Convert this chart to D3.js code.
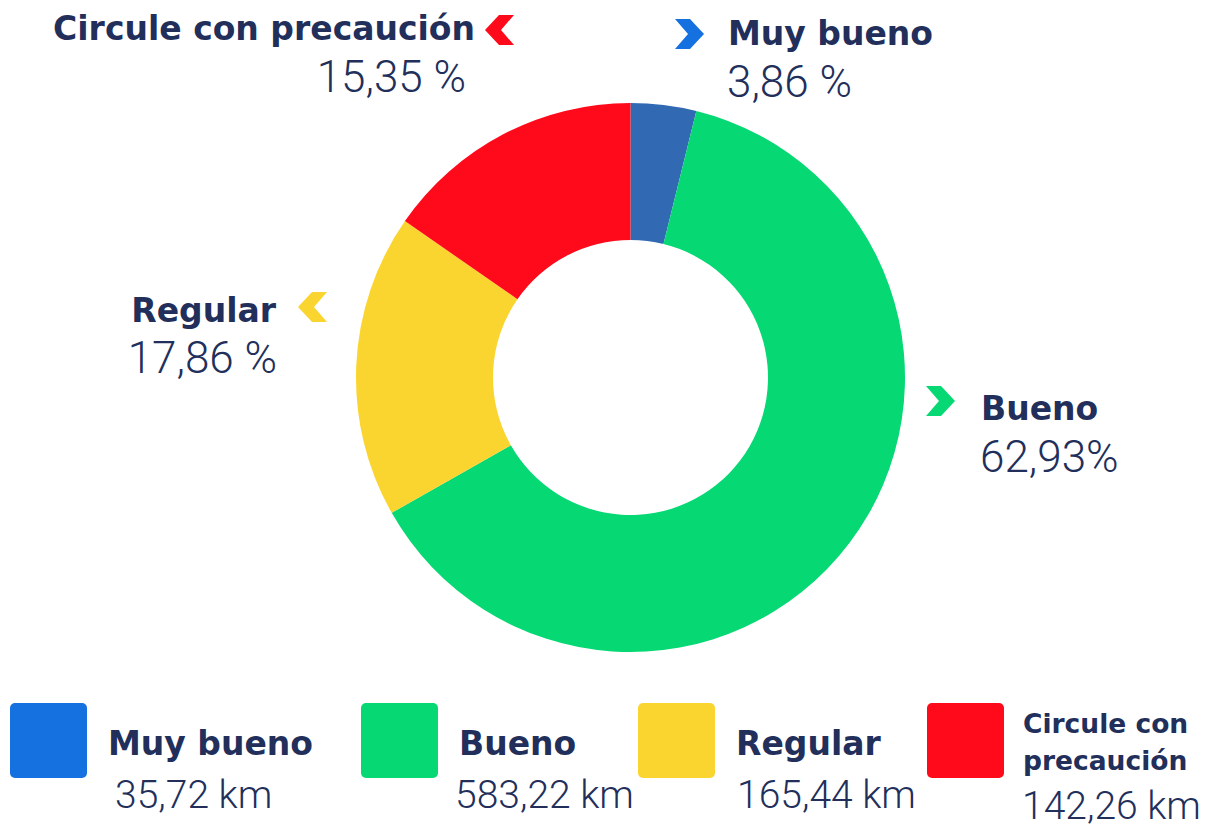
<!DOCTYPE html>
<html><head><meta charset="utf-8">
<script src="https://cdn.jsdelivr.net/npm/d3@7"></script>
<style>body{margin:0;background:#fff}svg{display:block}</style>
</head><body>
<svg id="c" width="1209" height="829"></svg>
<script>
const categories = ["Muy bueno", "Bueno", "Regular", "Circule con precaución"];
const kmValues = [35.72, 583.22, 165.44, 142.26];
const pctLabels = ["3,86 %", "62,93%", "17,86 %", "15,35 %"];
const kmLabels = ["35,72 km", "583,22 km", "165,44 km", "142,26 km"];
const arcColors = ["#316ab2", "#06d874", "#fad530", "#ff0a1a"];
const legendColors = ["#1570e0", "#06d874", "#fad530", "#ff0a1a"];

const svg = d3.select("#c");
const textColor = "#222f5b";
const boldFont = "'DejaVu Sans', sans-serif";
const lightFont = "Roboto, 'Open Sans', sans-serif";

const cx = 630.5, cy = 377.5, R = 274.5, r = 137.5;
const pie = d3.pie().sort(null).value(d => d)(kmValues);
const arc = d3.arc().innerRadius(r).outerRadius(R);
svg.append("g").attr("transform", `translate(${cx},${cy})`)
  .selectAll("path").data(pie).join("path")
  .attr("d", arc).attr("fill", (d, i) => arcColors[i]);

function chevron(g, x, y, dir, color) {
  const p = "M0,0 L15,0 L29,15 L15,30 L0,30 L13,15 Z";
  g.append("path").attr("d", p).attr("fill", color)
    .attr("transform", dir > 0 ? `translate(${x},${y})` : `translate(${x + 29},${y}) scale(-1,1)`);
}

const callouts = [
  {i: 0, anchor: "start", x: 728, px: 727, ty: 45, py: 97, chx: 675, chy: 19, dir: 1},
  {i: 1, anchor: "start", x: 981, px: 980, ty: 420, py: 472, chx: 926, chy: 386, dir: 1},
  {i: 2, anchor: "end", x: 276, px: 277, ty: 322, py: 373, chx: 298, chy: 292, dir: -1},
  {i: 3, anchor: "end", x: 475, px: 466, ty: 40, py: 92, chx: 485, chy: 15, dir: -1}
];
const cg = svg.append("g");
callouts.forEach(c => {
  cg.append("text").attr("x", c.x).attr("y", c.ty).attr("text-anchor", c.anchor)
    .attr("font-family", boldFont).attr("font-weight", 700).attr("font-size", 33)
    .attr("fill", textColor).text(categories[c.i]);
  cg.append("text").attr("x", c.px).attr("y", c.py).attr("text-anchor", c.anchor)
    .attr("font-family", lightFont).attr("font-weight", 300).attr("font-size", 44)
    .attr("fill", textColor).text(pctLabels[c.i]);
  chevron(cg, c.chx, c.chy, c.dir, legendColors[c.i]);
});

const legendX = [10, 361, 638, 927];
const kmX = [115, 455, 737, 1022];
const lg = svg.append("g");
categories.forEach((cat, i) => {
  lg.append("rect").attr("x", legendX[i]).attr("y", 703).attr("width", 77).attr("height", 75)
    .attr("rx", 5).attr("fill", legendColors[i]);
  const tx = legendX[i] + 98;
  if (i < 3) {
    lg.append("text").attr("x", tx).attr("y", 755)
      .attr("font-family", boldFont).attr("font-weight", 700).attr("font-size", 33)
      .attr("fill", textColor).text(cat);
    lg.append("text").attr("x", kmX[i]).attr("y", 808)
      .attr("font-family", lightFont).attr("font-weight", 300).attr("font-size", 39)
      .attr("fill", textColor).text(kmLabels[i]);
  } else {
    const words = ["Circule con", "precaución"];
    words.forEach((w, k) => {
      lg.append("text").attr("x", tx - 2).attr("y", 733 + k * 37)
        .attr("font-family", boldFont).attr("font-weight", 700).attr("font-size", 26.5)
        .attr("fill", textColor).text(w);
    });
    lg.append("text").attr("x", kmX[i]).attr("y", 819)
      .attr("font-family", lightFont).attr("font-weight", 300).attr("font-size", 39)
      .attr("fill", textColor).text(kmLabels[i]);
  }
});
</script>
</body></html>
